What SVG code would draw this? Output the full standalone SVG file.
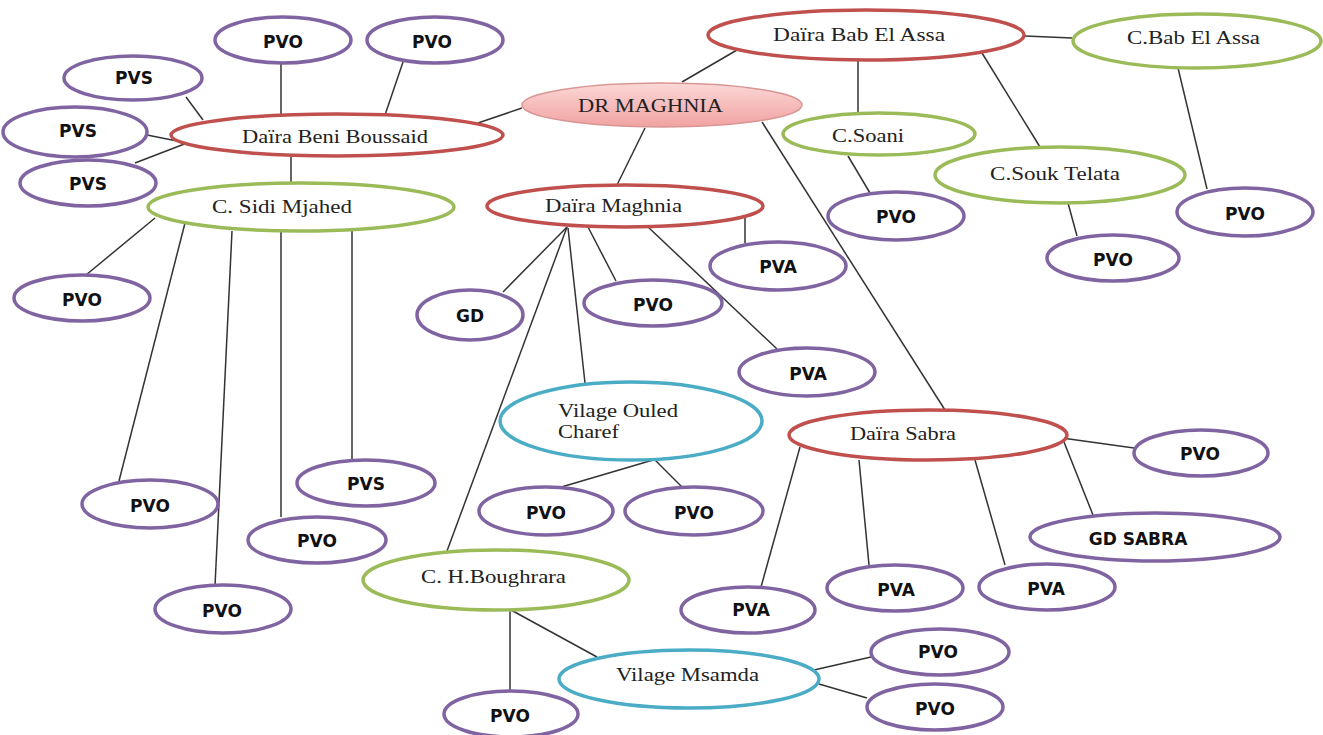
<svg xmlns="http://www.w3.org/2000/svg" width="1323" height="735" viewBox="0 0 1323 735">
<defs>
<linearGradient id="pinkGrad" x1="0" y1="0" x2="0" y2="1">
<stop offset="0" stop-color="#fbd9d8"/>
<stop offset="0.5" stop-color="#f6bcbb"/>
<stop offset="1" stop-color="#f0a3a2"/>
</linearGradient>
<style>
.p{fill:#fff;stroke:#8064a2;stroke-width:3.5}
.r{fill:#fff;stroke:#c0504d;stroke-width:3.5}
.g{fill:#fff;stroke:#9bbb59;stroke-width:3.5}
.t{fill:#fff;stroke:#4bacc6;stroke-width:3.5}
.dr{fill:url(#pinkGrad);stroke:#d99694;stroke-width:1.5}
.b{font-family:"DejaVu Sans","Liberation Sans",sans-serif;font-weight:bold;font-size:17px;fill:#111;text-anchor:middle}
.s{font-family:"Liberation Serif","Times New Roman",serif;font-size:18px;fill:#222}
#connectors line{stroke:#333;stroke-width:1.5}
</style>
</defs>
<rect width="1323" height="735" fill="#fff"/>
<g id="connectors">
<line x1="186" y1="97" x2="203" y2="120"/>
<line x1="281" y1="63" x2="281" y2="114"/>
<line x1="403" y1="62" x2="385" y2="115"/>
<line x1="147" y1="135" x2="187" y2="143"/>
<line x1="135" y1="163" x2="187" y2="143"/>
<line x1="291" y1="157" x2="291" y2="183"/>
<line x1="478" y1="123" x2="522" y2="108"/>
<line x1="682" y1="82" x2="737" y2="50"/>
<line x1="645" y1="128" x2="617" y2="185"/>
<line x1="762" y1="122" x2="945" y2="410"/>
<line x1="858" y1="60" x2="858" y2="113"/>
<line x1="982" y1="53" x2="1040" y2="147"/>
<line x1="1025" y1="36" x2="1072" y2="38"/>
<line x1="848" y1="156" x2="870" y2="193"/>
<line x1="1068" y1="203" x2="1077" y2="236"/>
<line x1="1178" y1="68" x2="1207" y2="189"/>
<line x1="155" y1="218" x2="86" y2="275"/>
<line x1="185" y1="223" x2="119" y2="481"/>
<line x1="232" y1="231" x2="215" y2="586"/>
<line x1="281" y1="231" x2="281" y2="517"/>
<line x1="352" y1="231" x2="352" y2="460"/>
<line x1="567" y1="227" x2="503" y2="292"/>
<line x1="567" y1="227" x2="447" y2="551"/>
<line x1="568" y1="228" x2="585" y2="383"/>
<line x1="588" y1="227" x2="616" y2="281"/>
<line x1="647" y1="226" x2="777" y2="349"/>
<line x1="745" y1="217" x2="745" y2="243"/>
<line x1="653" y1="460" x2="558" y2="488"/>
<line x1="655" y1="460" x2="683" y2="488"/>
<line x1="510" y1="610" x2="510" y2="692"/>
<line x1="511" y1="610" x2="597" y2="657"/>
<line x1="814" y1="670" x2="871" y2="657"/>
<line x1="819" y1="684" x2="867" y2="698"/>
<line x1="1062" y1="438" x2="1134" y2="448"/>
<line x1="1064" y1="442" x2="1093" y2="515"/>
<line x1="800" y1="447" x2="761" y2="587"/>
<line x1="859" y1="460" x2="869" y2="565"/>
<line x1="975" y1="460" x2="1005" y2="565"/>
</g>
<g id="dr-maghnia"><ellipse class="dr" cx="662" cy="105" rx="140" ry="22"/><text class="s" x="578" y="112" textLength="145" lengthAdjust="spacingAndGlyphs">DR MAGHNIA</text></g>
<g id="daira-beni-boussaid"><ellipse class="r" cx="337" cy="135" rx="166" ry="21"/><text class="s" x="242" y="143" textLength="186" lengthAdjust="spacingAndGlyphs">Daïra Beni Boussaid</text></g>
<g id="daira-bab-el-assa"><ellipse class="r" cx="866" cy="35" rx="158" ry="25"/><text class="s" x="773" y="41" textLength="172" lengthAdjust="spacingAndGlyphs">Daïra Bab El Assa</text></g>
<g id="daira-maghnia"><ellipse class="r" cx="625" cy="206" rx="138" ry="21"/><text class="s" x="545" y="212" textLength="137" lengthAdjust="spacingAndGlyphs">Daïra Maghnia</text></g>
<g id="daira-sabra"><ellipse class="r" cx="928" cy="435" rx="139" ry="25"/><text class="s" x="850" y="440" textLength="106" lengthAdjust="spacingAndGlyphs">Daïra Sabra</text></g>
<g id="c-sidi-mjahed"><ellipse class="g" cx="301" cy="207" rx="153" ry="24"/><text class="s" x="212" y="213" textLength="140" lengthAdjust="spacingAndGlyphs">C. Sidi Mjahed</text></g>
<g id="c-soani"><ellipse class="g" cx="879" cy="134" rx="96" ry="21"/><text class="s" x="832" y="142" textLength="72" lengthAdjust="spacingAndGlyphs">C.Soani</text></g>
<g id="c-souk-telata"><ellipse class="g" cx="1060" cy="175" rx="125" ry="28"/><text class="s" x="990" y="180" textLength="130" lengthAdjust="spacingAndGlyphs">C.Souk Telata</text></g>
<g id="c-bab-el-assa"><ellipse class="g" cx="1197" cy="41" rx="124" ry="27"/><text class="s" x="1127" y="44" textLength="133" lengthAdjust="spacingAndGlyphs">C.Bab El Assa</text></g>
<g id="c-h-boughrara"><ellipse class="g" cx="496" cy="580" rx="133" ry="30"/><text class="s" x="421" y="583" textLength="145" lengthAdjust="spacingAndGlyphs">C. H.Boughrara</text></g>
<g id="vilage-ouled-charef"><ellipse class="t" cx="631" cy="421" rx="131" ry="39"/><text class="s" x="558" y="417" textLength="120" lengthAdjust="spacingAndGlyphs">Vilage Ouled</text><text class="s" x="558" y="438" textLength="61" lengthAdjust="spacingAndGlyphs">Charef</text></g>
<g id="vilage-msamda"><ellipse class="t" cx="689" cy="679" rx="130" ry="29"/><text class="s" x="616" y="681" textLength="143" lengthAdjust="spacingAndGlyphs">Vilage Msamda</text></g>
<g id="pvs-1"><ellipse class="p" cx="133" cy="78" rx="69" ry="22"/><text class="b" x="134" y="84">PVS</text></g>
<g id="pvo-top-1"><ellipse class="p" cx="283" cy="40" rx="68" ry="23"/><text class="b" x="283" y="48">PVO</text></g>
<g id="pvo-top-2"><ellipse class="p" cx="435" cy="40" rx="68" ry="23"/><text class="b" x="432" y="48">PVO</text></g>
<g id="pvs-2"><ellipse class="p" cx="75" cy="132" rx="72" ry="25"/><text class="b" x="78" y="137">PVS</text></g>
<g id="pvs-3"><ellipse class="p" cx="88" cy="183" rx="68" ry="23"/><text class="b" x="88" y="190">PVS</text></g>
<g id="pvo-left"><ellipse class="p" cx="82" cy="298" rx="68" ry="23"/><text class="b" x="82" y="306">PVO</text></g>
<g id="pvo-sm-1"><ellipse class="p" cx="150" cy="504" rx="68" ry="24"/><text class="b" x="150" y="512">PVO</text></g>
<g id="pvo-sm-2"><ellipse class="p" cx="223" cy="609" rx="68" ry="24"/><text class="b" x="222" y="617">PVO</text></g>
<g id="pvo-sm-3"><ellipse class="p" cx="317" cy="540" rx="69" ry="23"/><text class="b" x="317" y="547">PVO</text></g>
<g id="pvs-sm"><ellipse class="p" cx="366" cy="483" rx="69" ry="23"/><text class="b" x="366" y="490">PVS</text></g>
<g id="gd"><ellipse class="p" cx="470" cy="315" rx="53" ry="25"/><text class="b" x="470" y="322">GD</text></g>
<g id="pvo-dm"><ellipse class="p" cx="653" cy="303" rx="69" ry="23"/><text class="b" x="653" y="311">PVO</text></g>
<g id="pva-dm-1"><ellipse class="p" cx="778" cy="266" rx="68" ry="24"/><text class="b" x="778" y="273">PVA</text></g>
<g id="pva-dm-2"><ellipse class="p" cx="807" cy="372" rx="68" ry="24"/><text class="b" x="808" y="380">PVA</text></g>
<g id="pvo-oc-1"><ellipse class="p" cx="546" cy="511" rx="67" ry="24"/><text class="b" x="546" y="519">PVO</text></g>
<g id="pvo-oc-2"><ellipse class="p" cx="694" cy="511" rx="69" ry="24"/><text class="b" x="694" y="519">PVO</text></g>
<g id="pvo-hb"><ellipse class="p" cx="511" cy="714" rx="67" ry="23"/><text class="b" x="510" y="722">PVO</text></g>
<g id="pvo-soani"><ellipse class="p" cx="896" cy="216" rx="68" ry="24"/><text class="b" x="896" y="223">PVO</text></g>
<g id="pvo-souk"><ellipse class="p" cx="1113" cy="258" rx="66" ry="23"/><text class="b" x="1113" y="266">PVO</text></g>
<g id="pvo-cbab"><ellipse class="p" cx="1245" cy="212" rx="68" ry="24"/><text class="b" x="1245" y="220">PVO</text></g>
<g id="pvo-sabra"><ellipse class="p" cx="1201" cy="453" rx="67" ry="23"/><text class="b" x="1200" y="460">PVO</text></g>
<g id="gd-sabra"><ellipse class="p" cx="1155" cy="537" rx="125" ry="24"/><text class="b" x="1138" y="545">GD SABRA</text></g>
<g id="pva-sabra-1"><ellipse class="p" cx="748" cy="610" rx="67" ry="23"/><text class="b" x="751" y="616">PVA</text></g>
<g id="pva-sabra-2"><ellipse class="p" cx="895" cy="588" rx="68" ry="23"/><text class="b" x="896" y="596">PVA</text></g>
<g id="pva-sabra-3"><ellipse class="p" cx="1047" cy="587" rx="68" ry="23"/><text class="b" x="1046" y="595">PVA</text></g>
<g id="pvo-msamda-1"><ellipse class="p" cx="940" cy="652" rx="69" ry="23"/><text class="b" x="938" y="658">PVO</text></g>
<g id="pvo-msamda-2"><ellipse class="p" cx="935" cy="707" rx="68" ry="23"/><text class="b" x="935" y="715">PVO</text></g>
</svg>
